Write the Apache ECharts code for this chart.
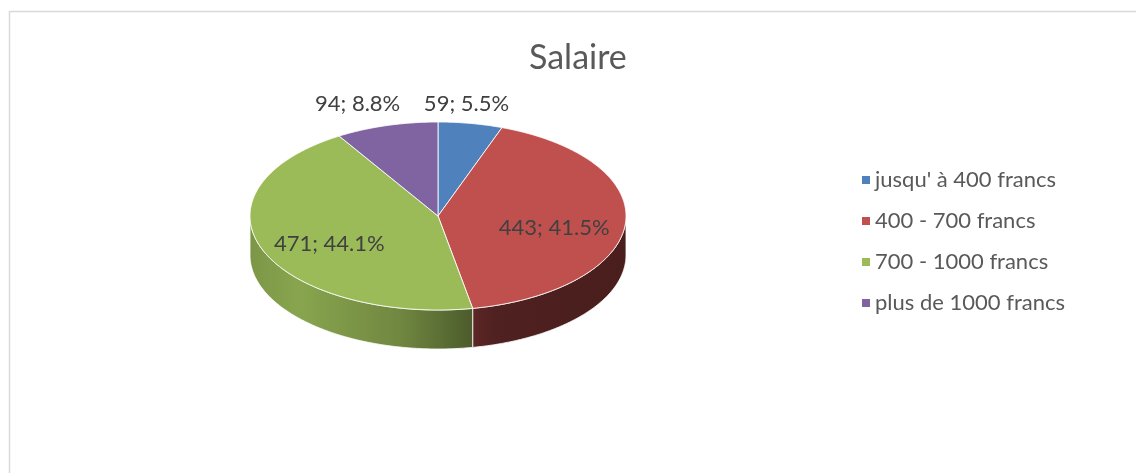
<!DOCTYPE html>
<html>
<head>
<meta charset="utf-8">
<script src="https://cdn.jsdelivr.net/npm/echarts@6/dist/echarts.min.js"></script>
<style>
  html, body { margin: 0; padding: 0; background: #fff; }
  #chart { width: 1136px; height: 473px; }
</style>
</head>
<body>
<div id="chart"></div>
<script>
const categories = ["jusqu' à 400 francs", '400 - 700 francs', '700 - 1000 francs', 'plus de 1000 francs'];
const values = [59, 443, 471, 94];
const colors = ['#4F81BD', '#C0504D', '#9BBB59', '#8064A2'];

// ellipse geometry for the tilted pie
const cx = 438, cy = 216, rx = 188, ry = 94, depth = 39;

const total = values.reduce((a, b) => a + b, 0);
const starts = [];
let acc = 0;
values.forEach(v => { starts.push(acc / total * Math.PI * 2); acc += v; });

function pt(t, r, dy) {
  return [cx + rx * r * Math.sin(t), cy - ry * r * Math.cos(t) + (dy || 0)];
}
function arc(a0, a1, r, dy) {
  const pts = [];
  const n = Math.max(2, Math.ceil((a1 - a0) / 0.01));
  for (let k = 0; k <= n; k++) pts.push(pt(a0 + (a1 - a0) * k / n, r, dy));
  return pts;
}
function shade(hex, f) {
  const n = parseInt(hex.slice(1), 16);
  const r = Math.round(((n >> 16) & 255) * f), g = Math.round(((n >> 8) & 255) * f), b = Math.round((n & 255) * f);
  return 'rgb(' + r + ',' + g + ',' + b + ')';
}
// side lighting across the pie width
const light = [[0, 0.80], [0.13, 0.88], [0.4, 0.72], [0.59, 0.49], [0.65, 0.41], [1, 0.38]];

function renderItem(params, api) {
  const i = params.seriesIndex;
  const a0 = starts[i];
  const a1 = starts[i] + values[i] / total * Math.PI * 2;
  const children = [];

  const s = Math.max(a0, Math.PI / 2), e = Math.min(a1, Math.PI * 1.5);
  if (e > s) {
    const top = arc(s, e, 1, 0);
    const bottom = arc(s, e, 1, depth).reverse();
    children.push({
      type: 'polygon',
      shape: { points: top.concat(bottom) },
      style: {
        fill: new echarts.graphic.LinearGradient(cx - rx, 0, cx + rx, 0,
          light.map(l => ({ offset: l[0], color: shade(colors[i], l[1]) })), true),
        stroke: 'rgba(255,255,255,0.8)',
        lineWidth: 1
      }
    });
  }

  children.push({
    type: 'polygon',
    shape: { points: [[cx, cy]].concat(arc(a0, a1, 1, 0)) },
    style: { fill: colors[i], stroke: 'rgba(255,255,255,0.85)', lineWidth: 1 }
  });

  const pct = values[i] / total * 100;
  const mid = (a0 + a1) / 2;
  const text = values[i] + '; ' + pct.toFixed(1) + '%';
  let lx, ly;
  if (pct < 10) {
    // small slices: label sits above the rim
    const p = pt(mid, 1, 0);
    lx = p[0] + (Math.sin(mid) > 0 ? -4 : -29);
    ly = cy - ry - 18;
  } else {
    const p = pt(mid, 0.62, 7);
    lx = p[0]; ly = p[1];
  }
  children.push({
    type: 'text',
    style: {
      text: text, x: lx, y: ly, align: 'center', verticalAlign: 'middle',
      fill: '#404040', font: '22px Lato'
    }
  });

  return { type: 'group', children: children };
}

const chart = echarts.init(document.getElementById('chart'));
chart.setOption({
  animation: false,
  color: colors,
  title: {
    text: 'Salaire',
    left: 524,
    top: 36,
    textStyle: { fontFamily: 'Lato', fontSize: 34, fontWeight: 'normal', color: '#595959' }
  },
  legend: {
    orient: 'vertical',
    left: 857,
    top: 164,
    icon: 'rect',
    itemWidth: 8,
    itemHeight: 8,
    itemGap: 19,
    selectedMode: false,
    textStyle: { fontFamily: 'Lato', fontSize: 22, color: '#595959', lineHeight: 22 },
    data: categories
  },
  graphic: [{
    type: 'rect',
    shape: { x: 9.5, y: 11.5, width: 1300, height: 800 },
    style: { fill: 'none', stroke: '#d9d9d9', lineWidth: 1.5 },
    silent: true
  }],
  series: categories.map((name, i) => ({
    type: 'custom',
    name: name,
    coordinateSystem: 'none',
    renderItem: renderItem,
    data: [[values[i]]]
  }))
});
</script>
</body>
</html>
